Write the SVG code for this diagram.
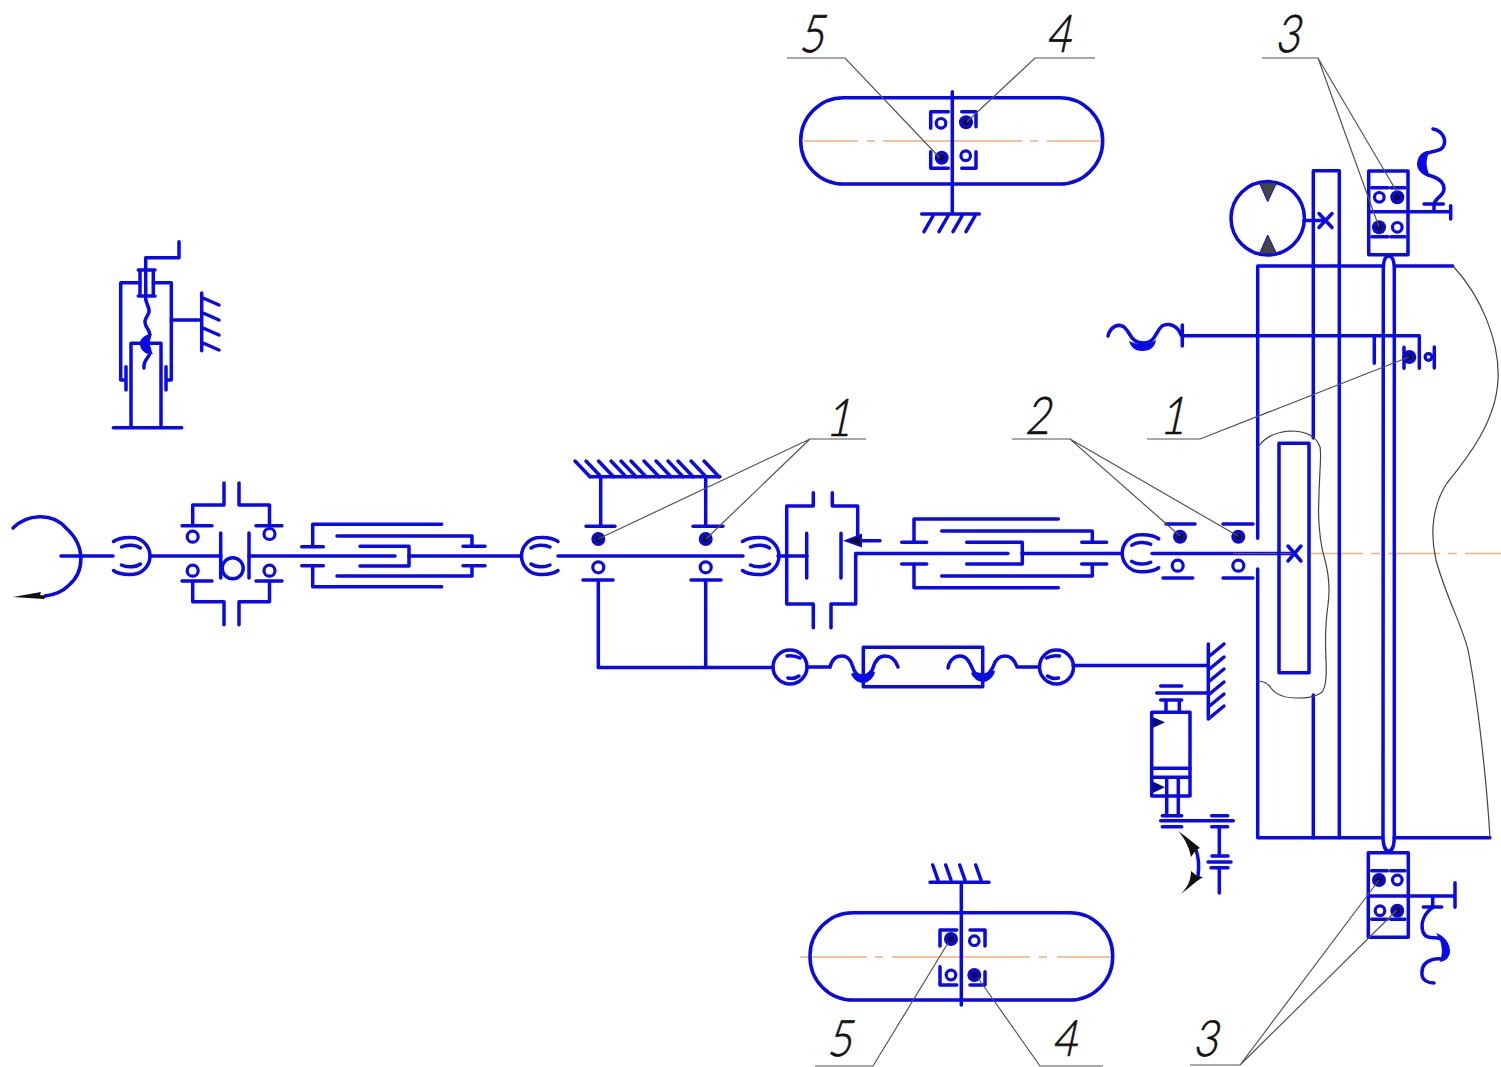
<svg xmlns="http://www.w3.org/2000/svg" xmlns:xlink="http://www.w3.org/1999/xlink" width="1501" height="1067" viewBox="0 0 1501 1067">
<style>
.b{fill:none;stroke:#0a0ae6;stroke-width:3.5;stroke-linecap:round;stroke-linejoin:round}
.bf{fill:#0a0ae6;stroke:none}
.o{fill:#fff;stroke:#0a0ae6;stroke-width:3.2}
.lead{fill:none;stroke:#555;stroke-width:1.2}
.thin{fill:none;stroke:#444;stroke-width:1.2}
.cl{fill:none;stroke:#f0b078;stroke-width:1.6}
.ov{fill:none;stroke:#d08070;stroke-width:1;opacity:.6}
.k{fill:#111;stroke:none}
.g{fill:#444;stroke:#0a0ae6;stroke-width:1}
.t{font-family:"Lato","Liberation Sans",sans-serif;font-weight:300;font-size:50px;fill:#111;stroke:#111;stroke-width:.7;text-anchor:middle}
</style>
<defs>
<g id="cpl"><path class="b" d="M18,-14.5 C13,-18 6,-18.7 0,-18.5 A18.5,18.5 0 0 0 0,18.5 C6,18.7 13,18 18,14.5 M-9,-8 C-5,-11 4,-12 10,-9 M-9,8 C-5,11 4,12 10,9"/></g>
<g id="cplc"><path class="b" d="M-17,0 A17,17 0 1 1 17,0 A17,17 0 1 1 -17,0 M-3,-11 C2,-12 6,-11 10,-9 M-2,11 C2,12 6,11 9,9"/></g>
<g id="bf"><circle r="7" fill="#0a0ac8"/><circle r="2.6" fill="#111"/></g>
<g id="blob"><path class="bf" d="M-12,-2 C-8,-5 -4,-1 0,-2 C4,-1 8,-6 12,-4 C11,2 5,7 0,7 C-5,7 -10,3 -12,-2Z"/></g>
</defs>
<g id="centerlines">
<path class="cl" d="M803,141H858M867,141H875M883,141H1022M1030,141H1038M1047,141H1103"/>
<path class="cl" d="M800,957H867M875,957H883M892,957H1030M1039,957H1047M1057,957H1113"/>
<path class="cl" d="M1308,553.5H1363M1371,553.5H1380M1388,553.5H1440M1448,553.5H1457M1465,553.5H1501"/>
</g>
<g id="connectors">
<path class="b" d="M61,556H113M150,556H221M249,556H395M409,556H521M558,556H743M778,556H807"/>
<path class="b" d="M856,553.5H1008M1022,553.5H1122M1152,553.5H1295"/>
<path class="b" d="M598.5,667.5H773M807,667H830M1073,665.5H1208"/>
<path class="b" d="M1304,220.5H1322"/>
<path class="ov" d="M1233,553.5H1295"/>
</g>
<g id="input-handle">
<path class="b" d="M13,528 C27,514 52,512 66,528 C86,546 85,572 68,586 C61,593 54,595 45,596"/>
<path class="k" d="M13,597 L41,592 L40,595 L46,596 L44,599 Z"/>
</g>
<g id="cpl-1"><use xlink:href="#cpl" href="#cpl" transform="translate(131.5,556) scale(-1,1)"/></g>
<g id="clutch-1">
<path class="b" d="M224,483V505H192.7V525.7M182,525.7H212M239,483V505H269.5V525.7M256,525.7H282"/>
<path class="b" d="M224,624.7V601.7H192.7V581M182,581H212M239,624.7V601.7H269.5V581M256,581H282"/>
<path class="b" d="M220.7,533V578M249,533V578"/>
<circle class="o" cx="192.7" cy="536.7" r="5.5"/><circle class="o" cx="269.5" cy="534" r="5.5"/>
<circle class="o" cx="192.7" cy="570.7" r="5.5"/><circle class="o" cx="269.5" cy="570.7" r="5.5"/>
<circle class="b" cx="232.7" cy="568.3" r="10.5"/>
</g>
<g id="telescope-1">
<path class="b" d="M441.7,524.3H312.7V546.7M301.7,546.7H323.3M441.7,586.7H312.7V565.7M301.7,565.7H323.3"/>
<path class="b" d="M337,536H472V546.3M463,546.3H485M337,576H472V565.7M463,565.7H485"/>
<path class="b" d="M360,546.3H409V566H360"/>
</g>
<g id="cpl-2"><use xlink:href="#cpl" href="#cpl" transform="translate(540,556)"/></g>
<g id="support-1">
<path class="b" d="M590,476.7H720M600.7,476.7V526.3M705.7,476.7V526.3M586,526.3H615M693,526.3H723"/>
<path class="b" d="M575,461L590,476.7M586,461L601,476.7M598.5,461L613.5,476.7M611,461L626,476.7M621,461L636,476.7M631,461L646,476.7M644,461L659,476.7M656,461L671,476.7M668,461L683,476.7M678,461L693,476.7M691,461L706,476.7M704,461L719,476.7"/>
<use xlink:href="#bf" href="#bf" x="598.3" y="539"/><use xlink:href="#bf" href="#bf" x="705.7" y="539"/>
<circle class="o" cx="598.3" cy="567.3" r="5.5"/><circle class="o" cx="705.7" cy="567.3" r="5.5"/>
<path class="b" d="M583,580H613M691,580H721M598.3,580V667.5M705.7,580V667.5"/>
</g>
<g id="cpl-3"><use xlink:href="#cpl" href="#cpl" transform="translate(760.5,556) scale(-1,1)"/></g>
<g id="clutch-2">
<path class="b" d="M813.3,492.7V506H786.7V604H813.3V627.7M832.3,492.7V506H857.7V538M831,627.7V604H855.7V553.5"/>
<path class="b" d="M806.7,533.3V578M841,533.3V578M860,540.7H880"/>
<path class="bf" d="M843,540.7L862,533.5V547.5Z"/>
<path class="k" d="M848,540.7L860,536.5V544.5Z"/>
</g>
<g id="telescope-2">
<path class="b" d="M1058.3,519H914V542.3M901.7,542.3H926.7M1058.3,587.7H914V564M901.7,564H926.7"/>
<path class="b" d="M941.7,531H1092.3V542.3M1081.7,542.3H1106.7M941.7,576H1092.3V564M1081.7,564H1106.7"/>
<path class="b" d="M966.7,542.3H1022.3V564H966.7"/>
</g>
<g id="cpl-4"><use xlink:href="#cpl" href="#cpl" transform="translate(1140.7,553.3)"/></g>
<g id="support-2">
<path class="b" d="M1166,524H1195M1223,524H1253M1163,578H1192.7M1223,578H1253"/>
<use xlink:href="#bf" href="#bf" x="1180" y="536.7"/><use xlink:href="#bf" href="#bf" x="1238.3" y="536.7"/>
<circle class="o" cx="1177.7" cy="565.7" r="5.5"/><circle class="o" cx="1238.3" cy="565.7" r="5.5"/>
</g>
<g id="brake-link">
<use xlink:href="#cplc" href="#cplc" transform="translate(790,667)"/>
<path class="b" d="M830,667 C832,659 836,656 842,656 C850,656 852,664 854,670 C856,674 860,677 863,678"/>
<rect class="b" x="863.3" y="647.3" width="119.4" height="39.4"/>
<path class="b" d="M863,678 C868,675 872,672 873,668 C875,661 879,656 885,656 C892,656 896,661 898,667"/>
<use xlink:href="#blob" href="#blob" x="863" y="676"/>
<path class="b" d="M948,668 C949,661 954,656 960,656 C967,656 970,663 973,670 C975,674 979,677 983,678"/>
<path class="b" d="M983,678 C988,675 991,671 993,667 C995,660 999,656 1005,656 C1012,656 1015,661 1017,667 H1038"/>
<use xlink:href="#blob" href="#blob" x="983" y="675"/>
<use xlink:href="#cplc" href="#cplc" transform="translate(1056.5,667) scale(-1,1)"/>
</g>
<g id="ground-wall">
<path class="b" d="M1208.3,644V719M1208.3,657L1224,644M1208.3,670L1224,657M1208.3,682L1224,669M1208.3,695L1224,682M1208.3,707L1224,694M1208.3,719L1224,706"/>
</g>
<g id="cylinder">
<path class="b" d="M1156.7,693H1208M1160.7,686H1181.7M1160.7,700H1181.7M1166,700V712M1179.3,700V712"/>
<rect class="b" x="1151.7" y="712.3" width="38.3" height="83.7"/>
<path class="b" d="M1151.7,768.3H1190M1151.7,777.3H1190M1166.7,777.3V815.7M1178.3,777.3V815.7"/>
<path fill="#0a0a80" d="M1152.7,717L1165,722.3L1152.7,728Z"/>
<path fill="#0a0a80" d="M1152.7,781.5L1165,787.3L1152.7,793Z"/>
<path class="b" d="M1162.3,815.7H1181.7M1160.7,820.7H1233.3M1162.3,826.7H1181.7M1211.7,815.7H1227.7M1211.7,826.7H1227.7M1219.3,826.7V856M1212,856H1228M1208,862H1231M1211,867.7H1228M1219.3,867.7V893"/>
<path class="b" d="M1196,850C1199,858 1199,868 1198,876"/>
<path class="k" d="M1178.3,831C1186,837 1193,842 1200,848L1196,850L1191,857C1189,847 1185,839 1178.3,831Z"/>
<path class="k" d="M1180.7,894C1188,889 1195,882 1203,877L1197,876L1191,871C1191,881 1187,888 1180.7,894Z"/>
</g>
<g id="housing">
<path class="b" d="M1257.7,538.3V266H1382M1395,266H1452.7M1257.7,569V837.7H1382M1394,837.7H1490"/>
<path class="b" d="M1313.3,438V170.7H1339.3V837.7M1313.3,695V837.7"/>
<path class="b" d="M1383.3,270C1383.3,262 1385,256 1388.8,256C1392.6,256 1394.3,262 1394.3,270V836C1394.3,846 1392,851 1388.8,851C1385.6,851 1383,846 1383,836Z"/>
<rect class="b" x="1279" y="443.3" width="30" height="229.4"/>
<path class="thin" d="M1258,447C1265,437 1275,432 1290,431C1303,431 1316,435 1320,447C1322,456 1319,470 1318.5,513C1319,535 1321,547 1325,560C1329,575 1330,590 1328,605C1325,625 1325,640 1326,660C1327,680 1325,690 1321,693C1313,698 1305,698 1297,698C1285,698 1276,695 1271,688C1267,682 1263,681 1258,681"/>
<path class="thin" d="M1453,266C1480,295 1500,340 1498,380C1496,420 1470,455 1447,483C1434,503 1429,530 1436,560C1446,597 1462,625 1468,650C1476,690 1486,770 1490,838"/>
<path class="b" d="M1288,546L1301,561M1301,546L1288,561"/>
</g>
<g id="motor">
<circle class="b" cx="1267.7" cy="218.3" r="36.7"/>
<path class="g" d="M1259.3,182.7L1276.7,182.7L1267.7,201.7Z"/>
<path class="g" d="M1259.3,254L1276.7,254L1267.7,235Z"/>
<path class="b" d="M1319,213.5L1332,227.5M1332,213.5L1319,227.5"/>
</g>
<g id="upper-box">
<rect class="b" x="1368.7" y="171" width="39.3" height="83.7"/>
<path class="b" d="M1368.7,211.7H1450.7M1450.7,205.7V219M1434,211.7V204M1424,204H1443.3"/>
<path class="b" d="M1371.7,187.7H1388M1391,187.7H1405M1371.7,236.7H1388M1391,236.7H1405"/>
<circle class="o" cx="1379.3" cy="197.3" r="4.8"/><use xlink:href="#bf" href="#bf" x="1397.3" y="197.3"/>
<use xlink:href="#bf" href="#bf" x="1379" y="227.3"/><circle class="o" cx="1397.3" cy="227.3" r="4.8"/>
<path class="b" d="M1433,129C1443,131 1447,140 1443,147C1439,153 1428,150 1423,156C1419,162 1420,172 1428,175C1436,177 1444,181 1444,189C1444,196 1435,198 1434,204"/>
<path class="bf" d="M1430,151C1422,150 1417,157 1417,165C1418,172 1424,176 1430,176C1426,168 1425,160 1430,151Z"/>
</g>
<g id="upper-shaft">
<path class="b" d="M1182.3,335.7H1419.3V368.3M1182.3,325V346"/>
<path class="b" d="M1108,336C1110,327 1118,323 1124,327C1131,333 1130,342 1143,343C1156,343 1155,332 1162,326C1169,322 1178,326 1181,335"/>
<path class="bf" d="M1129,341C1136,345 1149,345 1156,340C1155,348 1149,351 1142,351C1136,351 1131,348 1129,341Z"/>
<path class="b" d="M1374.3,336.7V363.3M1404,347.3V368.3M1434.3,347V368M1429,357H1434"/>
<use xlink:href="#bf" href="#bf" x="1409.3" y="357"/>
<circle class="o" cx="1428.5" cy="357" r="3.4"/>
</g>
<g id="lower-box">
<rect class="b" x="1368.3" y="852.7" width="40" height="84.6"/>
<path class="b" d="M1368.3,896H1455M1455,882.7V907.3M1432.7,896V907M1423.3,907H1441.7"/>
<path class="b" d="M1371.7,870.7H1387.3M1390.7,870.7H1405M1371.7,919.3H1387.3M1390.7,919.3H1405"/>
<use xlink:href="#bf" href="#bf" x="1379" y="880"/><circle class="o" cx="1397.3" cy="880" r="4.8"/>
<circle class="o" cx="1380" cy="910.7" r="4.8"/><use xlink:href="#bf" href="#bf" x="1397.3" y="910.7"/>
<path class="b" d="M1433,907C1425,913 1420,922 1423,932C1427,942 1440,934 1443,941C1449,950 1447,958 1441,959C1432,958 1422,962 1422,972C1421,981 1429,983 1434,983"/>
<path class="bf" d="M1436,933C1445,936 1450,944 1450,951C1450,957 1446,961 1440,962C1443,953 1443,943 1436,933Z"/>
</g>
<g id="jack">
<path class="b" d="M179,241.7V257.7H145.7V270M138.3,270H155M138.3,296H155M140,270.7V296M145.7,270.7V296M153.3,270.7V296"/>
<path class="b" d="M140,282.7H120.7V380H126M126,366.7V390M153.3,282.7H171.3V380H166M166,366.7V390"/>
<path class="b" d="M131,427.7V343.3H161V427.7M113.3,427.7H181.7"/>
<path class="b" d="M146,296C144,302 150,306 149,312C147,318 143,320 146,326C149,331 151,334 149,338C146,343 150,348 150,353C149,358 143,360 144,368"/>
<path class="bf" d="M152,334C144,334 139,340 140,345C141,351 146,355 153,354C149,348 148,340 152,334Z"/>
<path class="b" d="M171.3,320H201.7M201.7,293V350.7M203,298L219,305M203,313L219,320M203,328L219,335M203,343L219,350"/>
</g>
<g id="wheel-top">
<rect class="b" x="800.7" y="97.7" width="302" height="86.3" rx="43" ry="43"/>
<path class="b" d="M952.3,91.7V214M921.7,214H979.3M933,216L924,231.7M948,216L939,231.7M962,216L953,231.7M975,216L966,231.7"/>
<path class="b" d="M930.7,128.3V111.7H948.3M961.7,111.7H976V126.7M930.7,151.7V168.3H948.3M961.7,168.3H976V151.7"/>
<circle class="o" cx="941" cy="123.3" r="4.8"/><use xlink:href="#bf" href="#bf" x="966" y="122.3"/>
<use xlink:href="#bf" href="#bf" x="941.7" y="157.7"/><circle class="o" cx="965.7" cy="155.7" r="4.8"/>
</g>
<g id="wheel-bottom">
<rect class="b" x="810" y="912.7" width="302.7" height="87.3" rx="43" ry="43"/>
<path class="b" d="M961.3,882.3V1005M930,882.3H989M938,880L932.7,865M951,880L945.7,865M965,880L959.7,865M981,880L975.7,865"/>
<path class="b" d="M940,946V930H956.7M970,930H985V946M940,966.7V985H956.7M970,985H985V971.7"/>
<use xlink:href="#bf" href="#bf" x="951" y="939"/><circle class="o" cx="974.3" cy="940.7" r="4.8"/>
<circle class="o" cx="951" cy="975" r="4.8"/><use xlink:href="#bf" href="#bf" x="974.3" y="975"/>
</g>
<g id="leaders">
<path class="lead" d="M787,58H845L940,158M1095,58H1035L966.7,122"/>
<path class="lead" d="M1262,58H1318L1397,192M1318,58L1379,227"/>
<path class="lead" d="M866,439H810L598,539M810,439L706,539"/>
<path class="lead" d="M1012,439H1070L1180,536M1070,439L1238,536"/>
<path class="lead" d="M1147,439H1200L1409,357"/>
<path class="lead" d="M815,1066H873L948,943M1103,1066H1040L978,978"/>
<path class="lead" d="M1190,1065H1240L1379,880M1240,1065L1397,910"/>
</g>
<g id="labels">
<text class="t" transform="translate(811,52) skewX(-12) scale(.85,1.04)">5</text>
<text class="t" transform="translate(1058,52) skewX(-12) scale(.85,1.04)">4</text>
<text class="t" transform="translate(1287,52) skewX(-12) scale(.85,1.04)">3</text>
<text class="t" transform="translate(838,436) skewX(-12) scale(.85,1.04)">1</text>
<text class="t" transform="translate(1037,434) skewX(-12) scale(.85,1.04)">2</text>
<text class="t" transform="translate(1172,434) skewX(-12) scale(.85,1.04)">1</text>
<text class="t" transform="translate(839,1056) skewX(-12) scale(.85,1)">5</text>
<text class="t" transform="translate(1064,1056) skewX(-12) scale(.85,1)">4</text>
<text class="t" transform="translate(1205,1056) skewX(-12) scale(.85,1)">3</text>
</g>
</svg>
